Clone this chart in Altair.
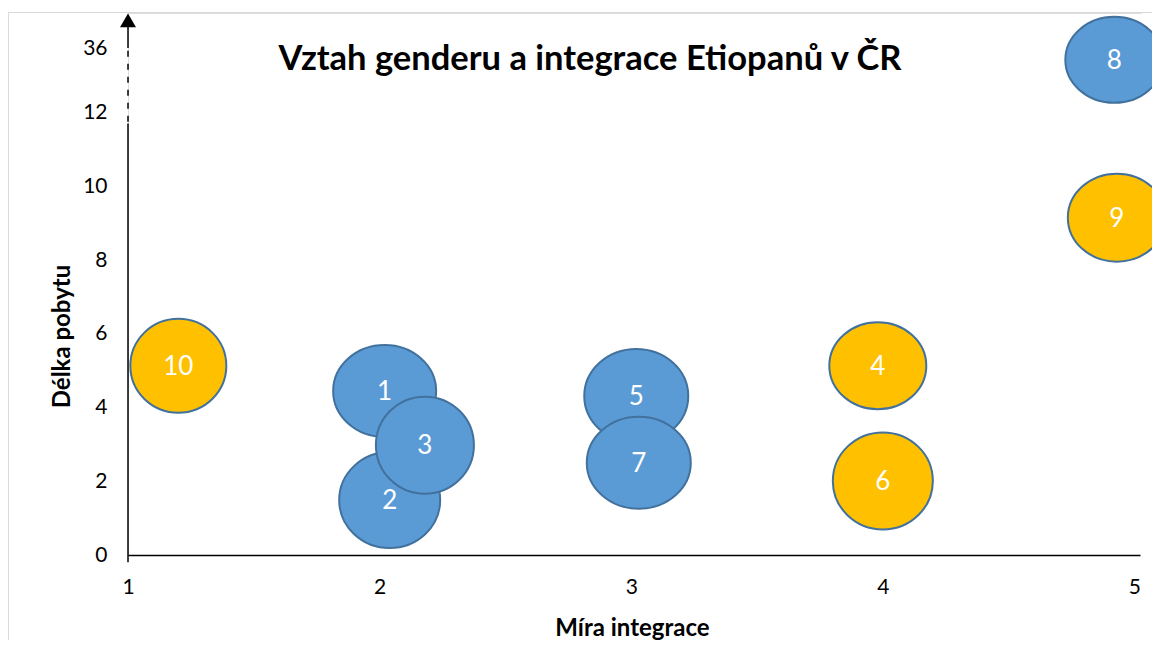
import altair as alt
import pandas as pd

# ---- data ----
ids = ["1", "2", "3", "4", "5", "6", "7", "8", "9", "10"]
mira_integrace = [2.02, 2.04, 2.18, 3.98, 3.02, 4.00, 3.03, 4.92, 4.93, 1.20]
delka_pobytu = [4.45, 1.49, 2.98, 5.13, 4.31, 2.01, 2.50, 13.43, 9.15, 5.13]
gender = ["muž", "muž", "muž", "žena", "muž", "žena", "muž", "muž", "žena", "žena"]
bubble_w = [103, 101, 98, 97, 104, 100, 104, 98, 98, 96]
bubble_h = [92, 96, 97, 87, 94, 97, 92, 86, 88, 94]

y_tick_values = [0, 2, 4, 6, 8, 10, 12, 13.75]
y_tick_labels = ["0", "2", "4", "6", "8", "10", "12", "36"]
x_tick_values = [1, 2, 3, 4, 5]

TITLE = "Vztah genderu a integrace Etiopanů v ČR"
FONT = "Lato"

K = 0.5523


def ellipse_path(w, h):
    r = h / w
    return (f"M-1,0C-1,{-r*K:.4f} {-K:.4f},{-r:.4f} 0,{-r:.4f}"
            f"C{K:.4f},{-r:.4f} 1,{-r*K:.4f} 1,0"
            f"C1,{r*K:.4f} {K:.4f},{r:.4f} 0,{r:.4f}"
            f"C{-K:.4f},{r:.4f} -1,{r*K:.4f} -1,0Z")


df = pd.DataFrame({
    "id": ids,
    "x": mira_integrace,
    "y": delka_pobytu,
    "gender": gender,
    "shape": [ellipse_path(w, h) for w, h in zip(bubble_w, bubble_h)],
    "size": [w * w for w in bubble_w],
})

W, H = 1014, 542
PAD = {"left": 120, "top": 5, "right": 10, "bottom": 85}
x_scale = alt.Scale(domain=[1, 5.03], nice=False, zero=False)
y_scale = alt.Scale(domain=[0, 14.7], nice=False, zero=False)

label_expr = " : ".join(
    [f"datum.value == {v} ? '{l}'" for v, l in zip(y_tick_values, y_tick_labels)]
) + " : datum.label"

x_enc = alt.X("x:Q", scale=x_scale,
              axis=alt.Axis(values=x_tick_values, format="d", title="Míra integrace",
                            grid=False, ticks=False, tickSize=0, labelPadding=21,
                            labelFontSize=21, labelFont=FONT, labelColor="black",
                            labelFlush=False, labelBound=False, labelOverlap=False,
                            domainColor="black", domainWidth=1.5, titleFont=FONT,
                            titleFontSize=24, titleFontWeight="bold", titleColor="black",
                            titleX=504, titleY=73, titleBaseline="middle",
                            titleAnchor="start", titleAlign="center"))
y_enc = alt.Y("y:Q", scale=y_scale,
              axis=alt.Axis(values=y_tick_values, labelExpr=label_expr,
                            title="Délka pobytu", grid=False, domain=False,
                            ticks=False, tickSize=0, labelPadding=21, labelFontSize=21,
                            labelFont=FONT, labelColor="black", labelOverlap=False,
                            titleFont=FONT, titleFontSize=24, titleFontWeight="bold",
                            titleColor="black", titleX=-66, titleY=323,
                            titleBaseline="middle", titleAnchor="start",
                            titleAlign="center", titleAngle=-90))

color_enc = alt.Color("gender:N",
                      scale=alt.Scale(domain=["muž", "žena"], range=["#5B9BD5", "#FFC000"]),
                      legend=None)

bubbles = alt.Chart(df).mark_point(
    filled=True, opacity=1, stroke="#41719C", strokeWidth=2
).encode(
    x=x_enc, y=y_enc, color=color_enc,
    shape=alt.Shape("shape:N", scale=None),
    size=alt.Size("size:Q", scale=None),
    order=alt.Order("order:Q"),
).transform_calculate(order="toNumber(datum.id)")

labels = alt.Chart(df).mark_text(
    color="white", fontSize=26, font=FONT, align="center", baseline="middle", dy=1
).encode(x=alt.X("x:Q", scale=x_scale), y=alt.Y("y:Q", scale=y_scale), text="id:N")

one = alt.Data(values=[{"a": 1}])

# white strip hiding the plot's right edge line (reference has none there)
edge_cover = alt.Chart(one).mark_rule(color="white", strokeWidth=5).encode(
    x=alt.value(W + 1), y=alt.value(0.5), y2=alt.value(H + PAD["bottom"])
)
border_top = alt.Chart(one).mark_rule(color="#d9d9d9", strokeWidth=1).encode(
    x=alt.value(-120), x2=alt.value(W + PAD["right"]), y=alt.value(-0.5)
)
border_left = alt.Chart(one).mark_rule(color="#d9d9d9", strokeWidth=1).encode(
    x=alt.value(-119.5), y=alt.value(-0.5), y2=alt.value(H + PAD["bottom"])
)

axis_solid = alt.Chart(one).mark_rule(color="black", strokeWidth=1.5).encode(
    x=alt.X(datum=1, scale=x_scale), y=alt.Y(datum=-0.2, scale=y_scale), y2=alt.Y2(datum=11.7)
)
axis_dash = alt.Chart(one).mark_rule(color="black", strokeWidth=1.5, strokeDash=[6, 7]).encode(
    x=alt.X(datum=1, scale=x_scale), y=alt.Y(datum=11.75, scale=y_scale), y2=alt.Y2(datum=13.75)
)
axis_top = alt.Chart(one).mark_rule(color="black", strokeWidth=1.5).encode(
    x=alt.X(datum=1, scale=x_scale), y=alt.Y(datum=13.75, scale=y_scale), y2=alt.Y2(datum=14.4)
)
arrow = alt.Chart(one).mark_point(shape="triangle-up", filled=True, color="black",
                                  opacity=1, size=256).encode(
    x=alt.X(datum=1, scale=x_scale), y=alt.Y(datum=14.5, scale=y_scale)
)

chart = alt.layer(
    edge_cover, border_top, border_left, bubbles, labels,
    axis_solid, axis_dash, axis_top, arrow
).properties(
    width=W, height=H,
    title=alt.TitleParams(TITLE, font=FONT, fontSize=34.5, fontWeight="bold", color="black",
                          anchor="middle", dx=-45, dy=70),
    padding=PAD,
    autosize=alt.AutoSizeParams(type="none"),
).configure_view(strokeWidth=0, strokeOpacity=0).configure(background="white")

chart.save("out.html", embed_options={"renderer": "svg", "actions": False})
